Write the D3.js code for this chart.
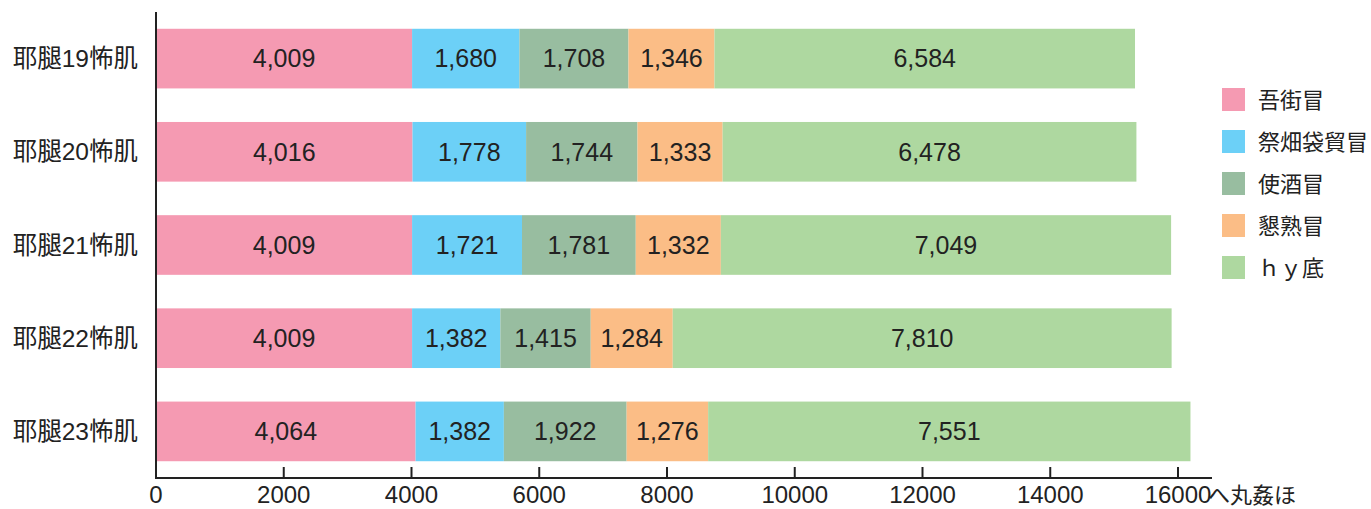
<!DOCTYPE html>
<html><head><meta charset="utf-8">
<script src="https://cdn.jsdelivr.net/npm/d3@7"></script>
<style>body{margin:0;background:#fff}svg{display:block}</style>
</head><body>
<svg id="c" width="1371" height="509"></svg>
<script>
const categories = ["耶腿19怖肌","耶腿20怖肌","耶腿21怖肌","耶腿22怖肌","耶腿23怖肌"];
const seriesNames = ["吾街冒","祭畑袋貿冒","使酒冒","懇熟冒","ｈｙ底"];
const s1 = [4009,4016,4009,4009,4064];
const s2 = [1680,1778,1721,1382,1382];
const s3 = [1708,1744,1781,1415,1922];
const s4 = [1346,1333,1332,1284,1276];
const s5 = [6584,6478,7049,7810,7551];
const xTicks = [0,2000,4000,6000,8000,10000,12000,14000,16000];
const xAxisTitle = "へ丸姦ほ";
const colors = ["#F59AB2","#6CD0F7","#98BDA0","#FBBD86","#AED8A0"];

const allSeries = [s1,s2,s3,s4,s5];
const rows = categories.map((c,i)=>{const o={cat:c}; seriesNames.forEach((s,j)=>o[s]=allSeries[j][i]); return o;});
const stack = d3.stack().keys(seriesNames)(rows);

const svg = d3.select("#c");
const font = "'Liberation Sans','Noto Sans CJK JP',Arial,sans-serif";
const x = d3.scaleLinear().domain([0,16000]).range([156,1178]);
const y = d3.scaleBand().domain(categories).range([12,478]).paddingInner(0.36).paddingOuter(0.18);

stack.forEach((layer,j)=>{
  const g = svg.append("g");
  g.selectAll("rect").data(layer).enter().append("rect")
    .attr("x",d=>x(d[0])).attr("width",d=>x(d[1])-x(d[0]))
    .attr("y",d=>y(d.data.cat)).attr("height",y.bandwidth())
    .attr("fill",colors[j]);
  g.selectAll("text").data(layer).enter().append("text")
    .attr("x",d=>(x(d[0])+x(d[1]))/2).attr("y",d=>y(d.data.cat)+y.bandwidth()/2)
    .attr("dy","0.35em").attr("text-anchor","middle")
    .attr("font-family",font).attr("font-size",25).attr("fill","#222")
    .text(d=>d3.format(",")(d[1]-d[0]));
});

// y axis
svg.append("line").attr("x1",156).attr("x2",156).attr("y1",12).attr("y2",478)
  .attr("stroke","#222").attr("stroke-width",2);
svg.selectAll("text.yl").data(categories).enter().append("text").attr("class","yl")
  .attr("x",138).attr("y",d=>y(d)+y.bandwidth()/2).attr("dy","0.35em")
  .attr("text-anchor","end").attr("font-family",font).attr("font-size",24.5).attr("fill","#222")
  .text(d=>d);

// x axis
svg.append("line").attr("x1",155).attr("x2",1212).attr("y1",478).attr("y2",478)
  .attr("stroke","#222").attr("stroke-width",2);
svg.selectAll("line.xt").data(xTicks).enter().append("line").attr("class","xt")
  .attr("x1",d=>x(d)).attr("x2",d=>x(d)).attr("y1",467).attr("y2",478)
  .attr("stroke","#222").attr("stroke-width",2);
svg.selectAll("text.xl").data(xTicks).enter().append("text").attr("class","xl")
  .attr("x",d=>x(d)).attr("y",503).attr("text-anchor","middle")
  .attr("font-family",font).attr("font-size",24).attr("fill","#222")
  .text(d=>d);
svg.append("text").attr("x",1208).attr("y",503).attr("font-family",font)
  .attr("font-size",22).attr("fill","#222").text(xAxisTitle);

// legend
const lg = svg.append("g");
seriesNames.forEach((s,j)=>{
  const cy = 100 + j*42;
  lg.append("rect").attr("x",1222).attr("y",cy-12).attr("width",23).attr("height",23).attr("fill",colors[j]);
  lg.append("text").attr("x",1258).attr("y",cy).attr("dy","0.35em")
    .attr("font-family",font).attr("font-size",22).attr("fill","#222").text(s);
});
</script>
</body></html>
